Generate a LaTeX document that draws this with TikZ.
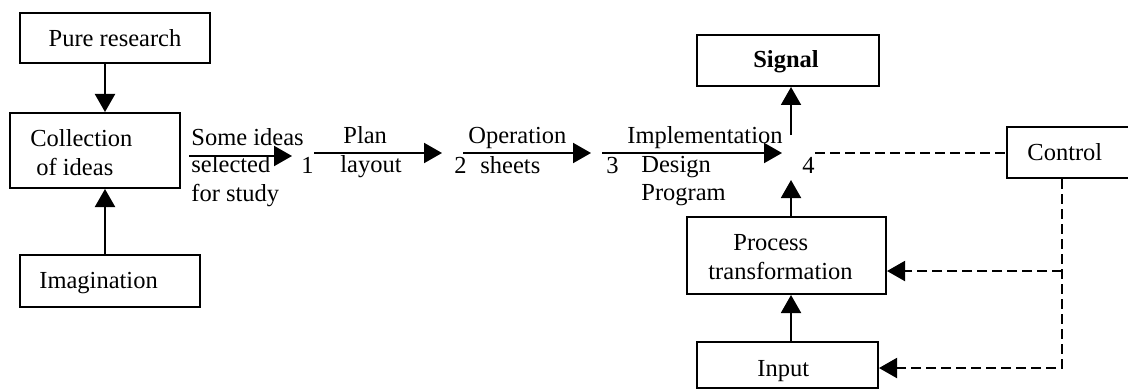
\documentclass[tikz,border=0pt]{standalone}
\usepackage{fontspec}
\setmainfont{Liberation Serif}
\usetikzlibrary{arrows.meta,calc}
\begin{document}
\begin{tikzpicture}[x=0.5pt,y=-0.5pt,
  font=\fontsize{12.25pt}{14.25pt}\selectfont,
  box/.style={draw,line width=1pt,inner sep=0pt},
  txt/.style={inner sep=0pt,anchor=base west},
  ctxt/.style={inner sep=0pt,anchor=base},
  flow/.style={line width=1pt,-{Triangle[length=9pt,width=10pt]}},
  ctl/.style={line width=1pt,dash pattern=on 5pt off 2.5pt},
  ctlarrow/.style={ctl,-{Triangle[length=9pt,width=10pt]}}]

\useasboundingbox (0,0) rectangle (1128,390);

% ---- boxes ----
\node[box,minimum width=95pt,minimum height=25pt] (pure) at (115,38) {};
\node[box,minimum width=85pt,minimum height=37.5pt] (coll) at (95,150.5) {};
\node[box,minimum width=90pt,minimum height=26pt] (imag) at (110,281) {};
\node[box,minimum width=91pt,minimum height=25.5pt] (sig) at (788,60.5) {};
\node[box,minimum width=66.5pt,minimum height=25.5pt] (ctrl) at (1073.5,152.5) {};
\node[box,minimum width=99.5pt,minimum height=38.5pt] (proc) at (786.5,255.5) {};
\node[box,minimum width=90.5pt,minimum height=23pt] (inp) at (787.5,365) {};

% ---- box texts ----
\node[ctxt] (t-pure) at (115,47) {Pure research};
\node[txt] (t-coll1) at (30,147) {Collection};
\node[txt] (t-coll2) at (36,175) {of ideas};
\node[txt] (t-imag) at (39,288) {Imagination};
\node[ctxt] (t-sig) at (786,68) {\textbf{Signal}};
\node[txt] (t-ctrl) at (1027,160) {Control};
\node[txt] (t-proc1) at (733,250) {Process};
\node[txt] (t-proc2) at (708,279) {transformation};
\node[txt] (t-inp) at (757,376) {Input};

% ---- stage numbers ----
\node[txt] (n1) at (301,173) {1};
\node[txt] (n2) at (454,173) {2};
\node[txt] (n3) at (606,173) {3};
\node[txt] (n4) at (802,173) {4};

% ---- flow labels ----
\node[txt] (t-some) at (191,145) {Some ideas};
\node[txt] (t-sel) at (191,172) {selected};
\node[txt] (t-study) at (191,201) {for study};
\node[txt] (t-plan) at (343,143) {Plan};
\node[txt] (t-layout) at (340,172) {layout};
\node[txt] (t-oper) at (468,143) {Operation};
\node[txt] (t-sheets) at (480,173) {sheets};
\node[txt] (t-impl) at (627,143) {Implementation};
\node[txt] (t-design) at (641,172) {Design};
\node[txt] (t-prog) at (641,200) {Program};

% ---- helper coordinates ----
\coordinate (lx) at (105,0);
\coordinate (j4) at (791,153);
\coordinate (cb) at (1062,271);
\coordinate (cv) at (1062,368);

% ---- left column ----
\draw[flow] (pure.south -| lx) -- (coll.north -| lx);
\draw[flow] (imag.north -| lx) -- (coll.south -| lx);

% ---- main flow ----
\draw[flow] ([xshift=4pt]coll.east |- 0,156) -- ([xshift=-4.5pt]n1.west |- 0,156);
\draw[flow] (n1.east |- 0,153) -- ([xshift=-6pt]n2.west |- 0,153);
\draw[flow] ([xshift=-2pt]n2.east |- 0,153) -- ([xshift=-7.5pt]n3.west |- 0,153);
\draw[flow] ([xshift=-2pt]n3.west |- 0,153) -- ([xshift=-4.5pt]j4);

% ---- stage 4 ----
\draw[flow] ($(j4)+(0,-18)$) -- (sig.south -| j4);
\draw[flow] (proc.north -| j4) -- ($(j4)+(0,27)$);
\draw[flow] (inp.north -| j4) -- (proc.south -| j4);

% ---- control ----
\draw[ctl] (n4.east |- ctrl.west) -- (ctrl.west);
\draw[ctlarrow] (ctrl.south -| cv) -- (cv) -- (inp.east |- cv);
\draw[ctlarrow] (cb) -- (proc.east |- cb);

\end{tikzpicture}
\end{document}
